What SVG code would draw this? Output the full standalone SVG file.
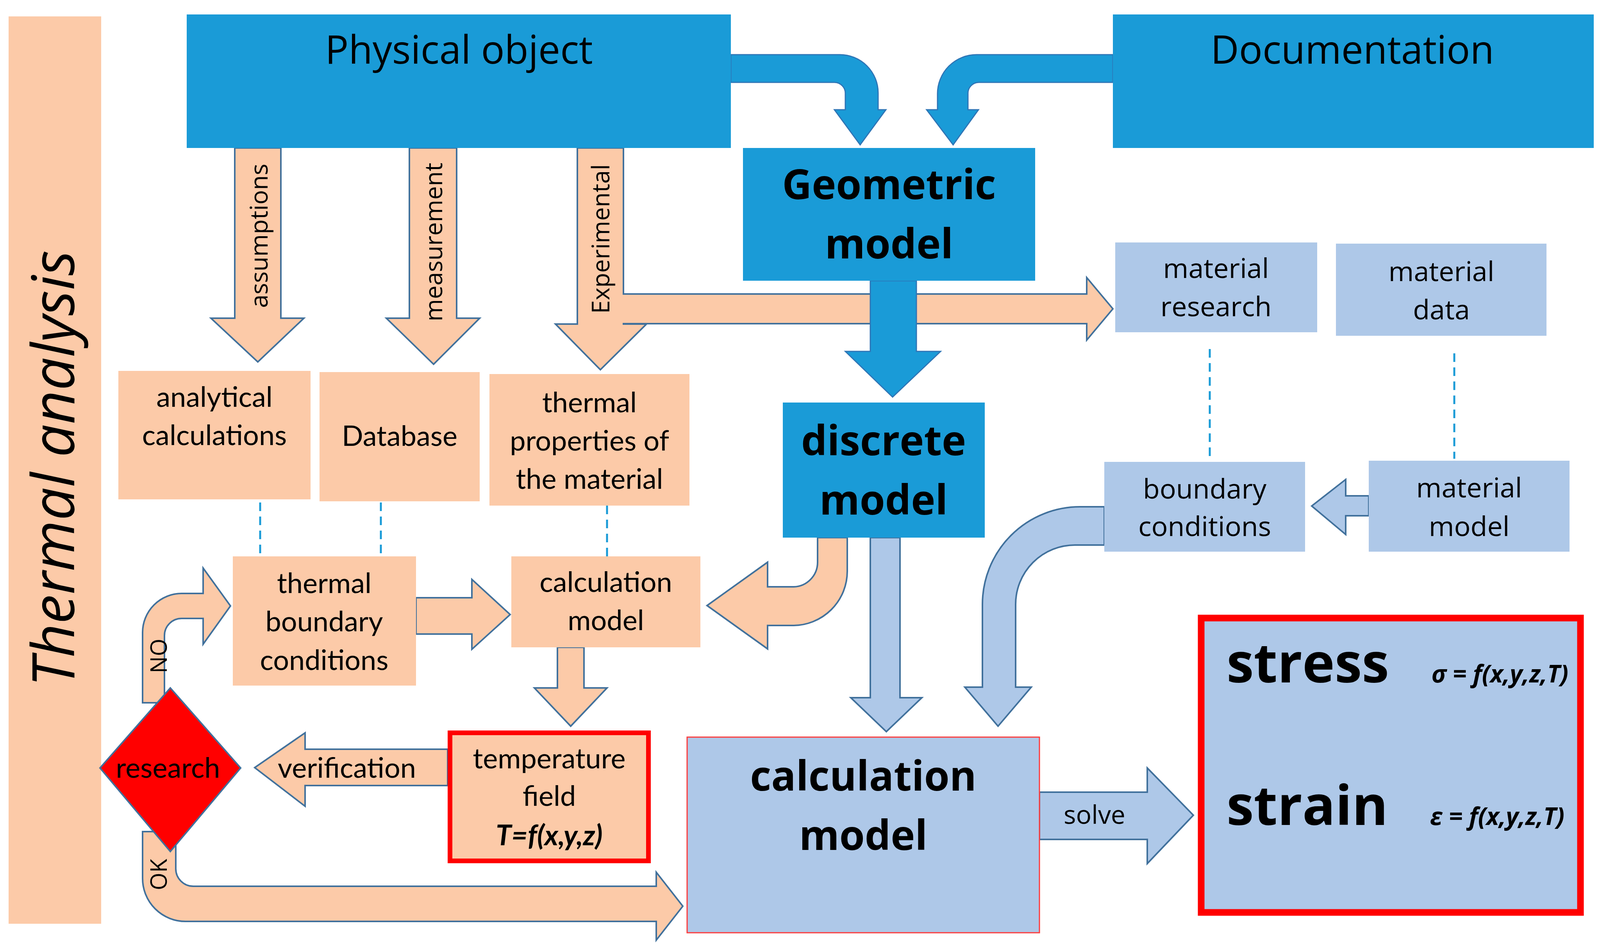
<svg xmlns="http://www.w3.org/2000/svg" width="4395" height="2423" viewBox="0 0 4395 2423">
<style>
.o{fill:#fccaa8}
.b{fill:#1a9bd7}
.lb{fill:#aec8e8}
.ao{fill:#fccaa8;stroke:#41719c;stroke-width:4}
.ab{fill:#1a9bd7;stroke:#2e75b6;stroke-width:3}
.al{fill:#aec8e8;stroke:#41719c;stroke-width:4}
.t{font-family:Lato,"Open Sans",sans-serif;fill:#000;text-anchor:middle}
.s{font-family:"Open Sans",sans-serif;fill:#000;text-anchor:middle}
.st{text-anchor:start}
.en{text-anchor:end}
.d{stroke:#1a9bd7;stroke-width:5;stroke-dasharray:22 14;fill:none}
</style>
<rect x="22" y="42" width="237" height="2324" class="o"/>
<text class="s" transform="translate(190,1200) rotate(-90)" font-size="150" font-style="italic">Thermal analysis</text>
<rect x="4139" y="39" width="234" height="2327" class="lb"/>
<text class="s" transform="translate(4305,1195) rotate(-90)" font-size="138" font-style="italic">Structural analysis</text>
<g id="connectors">
<path class="ab" d="M1871,140 H2150 A98,98 0 0 1 2248,238 V281 H2268 L2202,371 L2136,281 H2164 V240 A28,28 0 0 0 2136,211 H1871 Z"/>
<path class="ab" d="M2849,140 H2500 A100,100 0 0 0 2400,240 V281 H2372 L2440,371 L2505,281 H2478 V240 A28,28 0 0 1 2506,211 H2849 Z"/>
<path class="ao" d="M601,379 V815 H540 L660,927 L778,815 H719 V379 Z"/>
<path class="ao" d="M1048,379 V815 H989 L1110,933 L1228,815 H1169 V379 Z"/>
<path class="ao" d="M1478,379 V830 H1422 L1537,947 L1655,830 H1596 V829 H2782 V871 L2849,791 L2782,711 V753 H1596 V379 Z"/>
<path class="ab" d="M2228,719 V900 H2164 L2285,1017 L2408,900 H2346 V719 Z"/>
<path class="ao" d="M2093,1377 V1440 A63,63 0 0 1 2030,1503 H1965 V1440 L1810,1551 L1965,1662 V1602 H2030 A139,139 0 0 0 2169,1463 V1377 Z"/>
<path class="ao" d="M1065,1531 H1208 V1484 L1306,1574 L1208,1663 V1624 H1065 Z"/>
<path class="ao" d="M1427,1658 V1762 H1368 L1461,1860 L1554,1762 H1495 V1658 Z"/>
<path class="ao" d="M1146,1919 H781 V1877 L652,1966 L781,2065 V2012 H1146 Z"/>
<path class="ao" d="M365,1800 V1620 A100,100 0 0 1 465,1520 H520 V1455 L590,1552 L520,1650 V1584 H465 A44,44 0 0 0 421,1628 V1800 Z"/>
<path class="ao" d="M365,2130 V2250 A110,110 0 0 0 475,2360 H1680 V2408 L1748,2321 L1680,2234 V2270 H495 A45,45 0 0 1 450,2225 V2130 Z"/>
<path class="al" d="M2228,1377 V1787 H2178 L2269,1874 L2360,1787 H2304 V1377 Z"/>
<path class="al" d="M2827,1298 H2765 A250,250 0 0 0 2515,1548 V1760 H2470 L2555,1860 L2640,1760 H2600 V1548 A152,152 0 0 1 2752,1396 H2827 Z"/>
<path class="al" d="M3504,1270 H3445 V1228 L3358,1296 L3445,1369 V1321 H3504 Z"/>
<path class="al" d="M2661,2029 H2937 V1967 L3055,2088 L2937,2212 V2150 H2661 Z"/>
<path class="d" d="M666,1287 V1425 M975,1287 V1425 M1554,1295 V1425 M3097,894 V1180 M3723,905 V1175"/>
</g>
<g id="physical"><rect x="478" y="37" width="1393" height="342" class="b"/><text class="s" x="1175" y="163" font-size="100">Physical object</text></g>
<g id="documentation"><rect x="2849" y="37" width="1231" height="342" class="b"/><text class="s" x="3462" y="163" font-size="100">Documentation</text></g>
<g id="geometric"><rect x="1902" y="379" width="748" height="340" class="b"/><text class="s" font-weight="bold" font-size="105"><tspan x="2276" y="510">Geometric</tspan><tspan x="2276" y="662">model</tspan></text></g>
<g id="discrete"><rect x="2004" y="1031" width="517" height="346" class="b"/><text class="s" font-weight="bold" font-size="105"><tspan x="2262" y="1166">discrete</tspan><tspan x="2262" y="1318">model</tspan></text></g>
<g id="matresearch"><rect x="2855" y="621" width="517" height="230" class="lb"/><text class="s" font-size="70"><tspan x="3113" y="712">material</tspan><tspan x="3113" y="810">research</tspan></text></g>
<g id="matdata"><rect x="3420" y="624" width="539" height="236" class="lb"/><text class="s" font-size="70"><tspan x="3690" y="720">material</tspan><tspan x="3690" y="818">data</tspan></text></g>
<g id="bc"><rect x="2827" y="1183" width="514" height="230" class="lb"/><text class="s" font-size="70"><tspan x="3084" y="1277">boundary</tspan><tspan x="3084" y="1373">conditions</tspan></text></g>
<g id="matmodel"><rect x="3504" y="1180" width="514" height="233" class="lb"/><text class="s" font-size="70"><tspan x="3761" y="1274">material</tspan><tspan x="3761" y="1373">model</tspan></text></g>
<g id="analytical"><rect x="303" y="950" width="492" height="329" class="o"/><text class="t" font-size="72"><tspan x="549" y="1042">analytical</tspan><tspan x="549" y="1140">calculations</tspan></text></g>
<g id="database"><rect x="818" y="953" width="410" height="331" class="o"/><text class="t" x="1023" y="1142" font-size="72">Database</text></g>
<g id="thermprop"><rect x="1253" y="958" width="512" height="337" class="o"/><text class="t" font-size="72"><tspan x="1509" y="1056">thermal</tspan><tspan x="1509" y="1154">properties of</tspan><tspan x="1509" y="1252">the material</tspan></text></g>
<g id="thermbc"><rect x="596" y="1425" width="469" height="331" class="o"/><text class="t" font-size="72"><tspan x="830" y="1519">thermal</tspan><tspan x="830" y="1617">boundary</tspan><tspan x="830" y="1716">conditions</tspan></text></g>
<g id="calcorange"><rect x="1309" y="1425" width="484" height="233" class="o"/><text class="t" font-size="72"><tspan x="1551" y="1516">calculation</tspan><tspan x="1551" y="1614">model</tspan></text></g>
<g id="tempfield"><rect x="1152" y="1877" width="508" height="328" class="o" stroke="#ff0000" stroke-width="12"/><text class="t" font-size="72"><tspan x="1406" y="1968">temperature</tspan><tspan x="1406" y="2064">field</tspan><tspan x="1406" y="2165" font-style="italic" font-weight="bold">T=f(x,y,z)</tspan></text></g>
<g id="research"><path d="M436,1762 L616,1967 L436,2181 L256,1967 Z" fill="#ff0000" stroke="#41719c" stroke-width="4"/><text class="t" x="430" y="1992" font-size="72">research</text></g>
<g id="calcblue"><rect x="1759" y="1888" width="902" height="501" class="lb" stroke="#ff3b3b" stroke-width="3"/><text class="s" font-weight="bold" font-size="105"><tspan x="2210" y="2025">calculation</tspan><tspan x="2210" y="2177">model</tspan></text></g>
<g id="result"><rect x="3075" y="1583" width="971" height="754" class="lb" stroke="#ff0000" stroke-width="17"/><text class="s st" font-weight="bold" font-size="140" x="3140" y="1748">stress</text><text class="s en" font-weight="bold" font-style="italic" font-size="62" x="4015" y="1748">σ = f(x,y,z,T)</text><text class="s st" font-weight="bold" font-size="140" x="3140" y="2113">strain</text><text class="s en" font-weight="bold" font-style="italic" font-size="62" x="4005" y="2113">ε = f(x,y,z,T)</text></g>
<g id="labels">
<text class="s" transform="translate(685,604) rotate(-90)" font-size="62">assumptions</text>
<text class="s" transform="translate(1132,620) rotate(-90)" font-size="62">measurement</text>
<text class="s" transform="translate(1560,612) rotate(-90)" font-size="62">Experimental</text>
<text class="t" x="888" y="1992" font-size="72">verification</text>
<text class="s" transform="translate(427,1680) rotate(-90)" font-size="58">NO</text>
<text class="s" transform="translate(427,2240) rotate(-90)" font-size="58">OK</text>
<text class="s" x="2802" y="2110" font-size="66">solve</text>
</g>
</svg>
